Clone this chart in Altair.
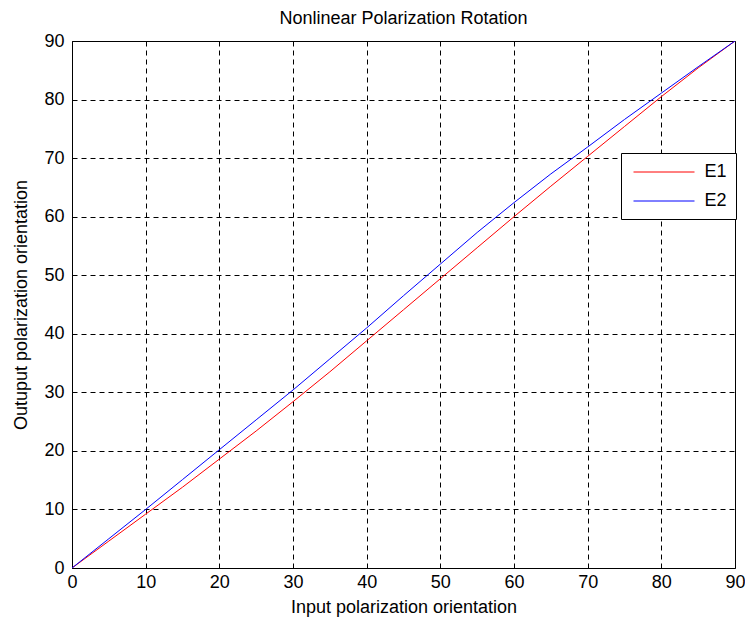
import altair as alt
import pandas as pd

x_vals = [0, 5, 10, 15, 20, 25, 30, 35, 40, 45, 50, 55, 60, 65, 70, 75, 80, 85, 90]
e1_vals = [0, 4.6, 9.2, 13.8, 18.6, 23.4, 28.4, 33.5, 38.8, 44.1, 49.4, 54.7, 60.0, 65.2, 70.3, 75.4, 80.5, 85.4, 90]
e2_vals = [0, 5.0, 10.0, 15.1, 20.2, 25.3, 30.4, 35.7, 41.0, 46.5, 51.9, 57.3, 62.4, 67.3, 71.9, 76.6, 81.1, 85.6, 90]
series_names = ["E1", "E2"]
series_colors = ["#ff0000", "#0000ff"]
ticks = [0, 10, 20, 30, 40, 50, 60, 70, 80, 90]

rows = []
for name, vals in zip(series_names, [e1_vals, e2_vals]):
    for xv, yv in zip(x_vals, vals):
        rows.append({"x": xv, "y": yv, "series": name})
df = pd.DataFrame(rows)

FONT = "Liberation Sans"

chart = alt.Chart(df).mark_line(strokeWidth=1, clip=True).encode(
    x=alt.X("x:Q", scale=alt.Scale(domain=[0, 90], nice=False),
            axis=alt.Axis(values=ticks, title="Input polarization orientation",
                          titlePadding=7, labelPadding=5)),
    y=alt.Y("y:Q", scale=alt.Scale(domain=[0, 90], nice=False),
            axis=alt.Axis(values=ticks, title="Outuput polarization orientation",
                          titlePadding=13, labelPadding=8)),
    color=alt.Color("series:N", scale=alt.Scale(domain=series_names, range=series_colors),
                    legend=alt.Legend(title=None)),
).properties(
    width=663,
    height=527,
    title=alt.Title("Nonlinear Polarization Rotation", fontSize=18, font=FONT,
                    fontWeight="normal", offset=4, color="black", frame="group",
                    anchor="middle"),
    autosize=alt.AutoSizeParams(type="none"),
    padding={"left": 64, "top": 33, "right": 10, "bottom": 50},
).configure_view(
    stroke="black", strokeWidth=1
).configure_axis(
    grid=True, gridColor="black", gridDash=[5, 4], gridWidth=1, gridOpacity=1,
    domain=False, ticks=False, tickSize=0,
    labelFont=FONT, labelFontSize=18, labelColor="black",
    titleFont=FONT, titleFontSize=18, titleFontWeight="normal", titleColor="black",
    labelFlush=False, labelOverlap=False,
).configure_legend(
    orient="none", legendX=549, legendY=112,
    strokeColor="black", fillColor="white", padding=8.5,
    symbolType="M-0.65,0H5.45", symbolSize=400, symbolStrokeWidth=1,
    labelFont=FONT, labelFontSize=18, labelColor="black", labelOffset=54,
    rowPadding=9, cornerRadius=0,
)

chart.save("out.html", embed_options={"renderer": "svg", "actions": False})
